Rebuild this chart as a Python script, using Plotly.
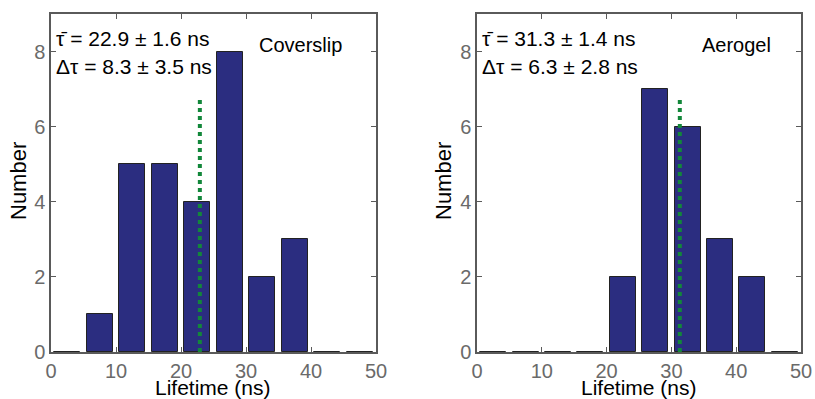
import plotly.graph_objects as go

bin_centers = [2.5, 7.5, 12.5, 17.5, 22.5, 27.5, 32.5, 37.5, 42.5, 47.5]
coverslip_counts = [0, 1, 5, 5, 4, 8, 2, 3, 0, 0]
aerogel_counts = [0, 0, 0, 0, 2, 7, 6, 3, 2, 0]
coverslip_mean = 22.9
aerogel_mean = 31.3
mean_line_height = 6.8
x_ticks = [0, 10, 20, 30, 40, 50]
y_ticks = [0, 2, 4, 6, 8]
panel_labels = ["Coverslip", "Aerogel"]
stats_texts = [
    ["τ̄ = 22.9 ± 1.6 ns", "Δτ = 8.3 ± 3.5 ns"],
    ["τ̄ = 31.3 ± 1.4 ns", "Δτ = 6.3 ± 2.8 ns"],
]

BAR = "#2b2d80"
GREEN = "#12873a"
AX = "#5a5a5a"
FONT = "Liberation Sans, Arial, sans-serif"

fig = go.Figure()
for i, (counts, mean) in enumerate([(coverslip_counts, coverslip_mean), (aerogel_counts, aerogel_mean)]):
    xa = "x" if i == 0 else "x2"
    ya = "y" if i == 0 else "y2"
    fig.add_trace(go.Bar(x=bin_centers, y=counts, width=4, marker=dict(color=BAR, line=dict(color="#222222", width=1)),
                         xaxis=xa, yaxis=ya, showlegend=False, hoverinfo="skip"))
    fig.add_trace(go.Scatter(x=[mean, mean], y=[0, mean_line_height], mode="lines",
                             line=dict(color=GREEN, width=4, dash="dot"), xaxis=xa, yaxis=ya, showlegend=False,
                             hoverinfo="skip"))

axis_common = dict(showgrid=False, zeroline=False, showline=True, linecolor=AX, linewidth=1.5, mirror="ticks",
                   ticks="inside", ticklen=5, tickcolor=AX, tickwidth=1, automargin=False,
                   tickfont=dict(family=FONT, size=20, color="#6a6a6a"))
fig.update_layout(
    width=815, height=399, margin=dict(l=0, r=0, t=0, b=0),
    plot_bgcolor="white", paper_bgcolor="white", bargap=0,
    xaxis=dict(domain=[51/815, 376/815], range=[0, 50], tickvals=x_ticks, anchor="y", **axis_common),
    yaxis=dict(domain=[47/399, 385/399], range=[0, 9], tickvals=y_ticks, anchor="x", **axis_common),
    xaxis2=dict(domain=[477/815, 801/815], range=[0, 50], tickvals=x_ticks, anchor="y2", **axis_common),
    yaxis2=dict(domain=[47/399, 385/399], range=[0, 9], tickvals=y_ticks, anchor="x2", **axis_common),
)

anns = []
for i in range(2):
    x0 = 51 if i == 0 else 477
    anns.append(dict(text=stats_texts[i][0], xref="paper", yref="paper", x=(x0 + 3) / 815, y=1 - 38/399,
                     xanchor="left", yanchor="middle", showarrow=False, font=dict(family=FONT, size=21, color="black")))
    anns.append(dict(text=stats_texts[i][1], xref="paper", yref="paper", x=(x0 + 3) / 815, y=1 - 66/399,
                     xanchor="left", yanchor="middle", showarrow=False, font=dict(family=FONT, size=21, color="black")))
    lx = 300 if i == 0 else 736
    anns.append(dict(text=panel_labels[i], xref="paper", yref="paper", x=lx / 815, y=1 - 45/399,
                     xanchor="center", yanchor="middle", showarrow=False, font=dict(family=FONT, size=20, color="black")))
    cx = 213 if i == 0 else 639
    anns.append(dict(text="Lifetime (ns)", xref="paper", yref="paper", x=cx / 815, y=1 - 387/399,
                     xanchor="center", yanchor="middle", showarrow=False, font=dict(family=FONT, size=21, color="black")))
    nx = 19 if i == 0 else 444
    anns.append(dict(text="Number", xref="paper", yref="paper", x=nx / 815, y=1 - 181/399, textangle=-90,
                     xanchor="center", yanchor="middle", showarrow=False, font=dict(family=FONT, size=22, color="black")))
fig.update_layout(annotations=anns)

fig.write_html("out.html", config={"displayModeBar": False},
               post_script="document.body.style.margin='0';document.body.style.padding='0';")
